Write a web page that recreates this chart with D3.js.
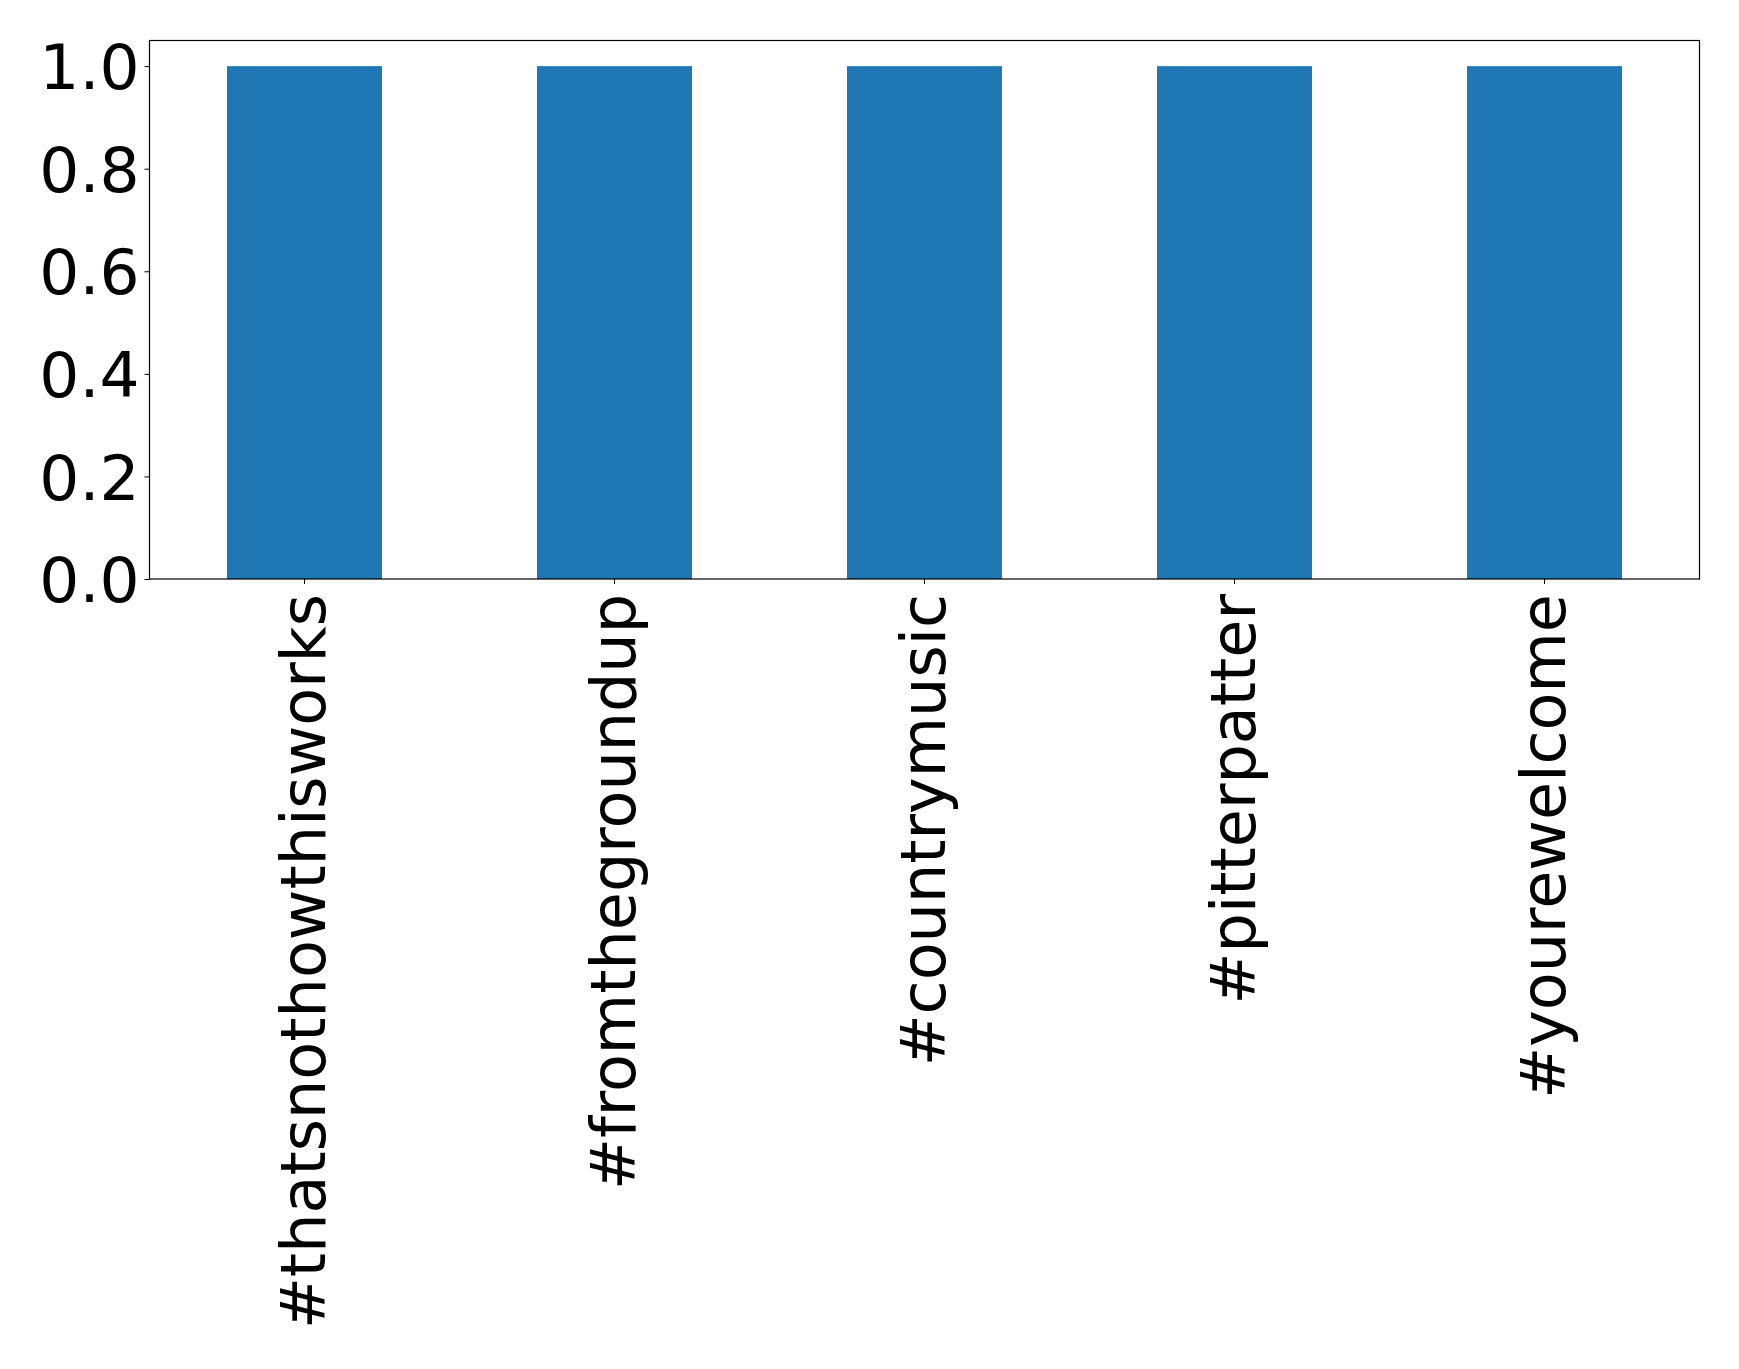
<!DOCTYPE html>
<html><head><meta charset="utf-8">
<script src="https://cdn.jsdelivr.net/npm/d3@7"></script>
<style>body{margin:0;background:#fff}svg text{font-family:"DejaVu Sans",sans-serif}</style>
</head><body>
<script>
const categories = ["#thatsnothowthisworks","#fromthegroundup","#countrymusic","#pitterpatter","#yourewelcome"];
const values = [1,1,1,1,1];
const yTicks = [0,0.2,0.4,0.6,0.8,1.0];

const W=1739,H=1369;
const L=149.5,R=1699.5,T=40.5,B=579;
const fs=63, fsx=62;
const svg=d3.select("body").append("svg").attr("width",W).attr("height",H);
const x=d3.scaleBand().domain(categories).range([L,R]).paddingInner(0.5).paddingOuter(0.25);
const y=d3.scaleLinear().domain([0,1.05]).range([B,T]);

svg.append("g").selectAll("rect").data(values).join("rect")
 .attr("x",(d,i)=>x(categories[i])).attr("width",x.bandwidth())
 .attr("y",d=>y(d)).attr("height",d=>y(0)-y(d)).attr("fill","#1f77b4");

const ya=svg.append("g").attr("transform",`translate(${L},0)`)
 .call(d3.axisLeft(y).tickValues(yTicks).tickFormat(d3.format(".1f")).tickSize(5).tickPadding(5));
ya.select(".domain").remove();
ya.selectAll("text").attr("font-size",fs).attr("fill","#000").attr("font-family","DejaVu Sans").attr("dy","0.36em");
ya.selectAll("line").attr("stroke","#000");

const xa=svg.append("g").attr("transform",`translate(0,${B})`)
 .call(d3.axisBottom(x).tickSize(5).tickPadding(5));
xa.select(".domain").remove();
xa.selectAll("line").attr("stroke","#000");
xa.selectAll("text").attr("font-size",fsx).attr("fill","#000").attr("font-family","DejaVu Sans")
 .attr("text-anchor","end").attr("transform","rotate(-90)")
 .attr("x",-15).attr("y",0).attr("dy","0.33em");

svg.append("rect").attr("x",L).attr("y",T).attr("width",R-L).attr("height",B-T)
 .attr("fill","none").attr("stroke","#000").attr("stroke-width",1.2);
</script>
</body></html>
